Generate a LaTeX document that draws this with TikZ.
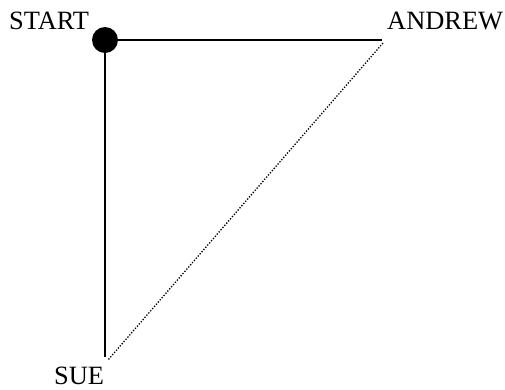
\documentclass[tikz,border=0pt]{standalone}
\usepackage{fontspec}
\setmainfont{Liberation Serif}
\usetikzlibrary{positioning}
\begin{document}
\begin{tikzpicture}[x=1bp, y=-1bp,
  dot/.style={circle, fill=black, inner sep=0pt, minimum size=26bp},
  lbl/.style={font=\fontsize{26.5}{30}\selectfont, inner sep=0pt, anchor=base west},
  edge/.style={draw=black, line width=1.8bp},
  hint/.style={draw=black, line width=1.3bp, dash pattern=on 1.3bp off 1.6bp},
]
\useasboundingbox (0,0) rectangle (505,389);
\node[dot] (start) at (105,40) {};
\coordinate (andrew) at (382,40);
\coordinate (sue) at (105,357);
\node[lbl] (startlbl) at (9,29) {START};
\node[lbl] (andrewlbl) at (387,29) {ANDREW};
\node[lbl] (suelbl) at (54,384) {SUE};
\draw[edge] (start.center) -- (andrew);
\draw[edge] (start.center) -- (sue);
\draw[hint] ([shift={(1,3)}]andrew) -- ([shift={(3,3)}]sue);
\end{tikzpicture}
\end{document}
